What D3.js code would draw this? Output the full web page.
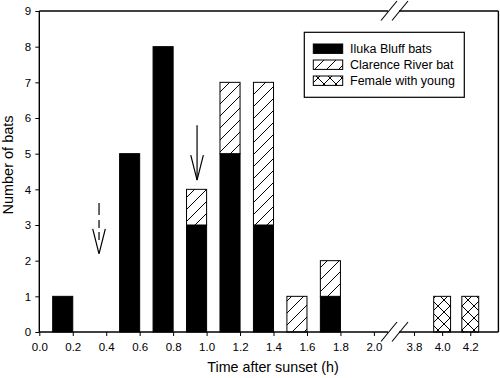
<!DOCTYPE html>
<html>
<head>
<meta charset="utf-8">
<script src="https://cdn.jsdelivr.net/npm/d3@7"></script>
<style>
  body { margin: 0; background: #fff; }
  svg { display: block; }
  text { font-family: "Liberation Sans", Arial, Helvetica, sans-serif; fill: #000; }
</style>
</head>
<body>
<svg id="chart" width="500" height="378"></svg>
<script>
// ---- data ----
const times    = [0.2, 0.6, 0.8, 1.0, 1.2, 1.4, 1.6, 1.8, 4.0, 4.2];
const iluka    = [1,   5,   8,   3,   5,   3,   0,   1,   0,   0];
const clarence = [0,   0,   0,   1,   2,   4,   1,   1,   0,   0];
const female   = [0,   0,   0,   0,   0,   0,   0,   0,   1,   1];
const seriesNames = ["Iluka Bluff bats", "Clarence River bat", "Female with young"];
const xTicksLeft  = [0.0, 0.2, 0.4, 0.6, 0.8, 1.0, 1.2, 1.4, 1.6, 1.8, 2.0];
const xTicksRight = [3.8, 4.0, 4.2];
const yTicks = [0, 1, 2, 3, 4, 5, 6, 7, 8, 9];
const arrows = [ {t: 0.357, y0: 3.62, y1: 2.19, dashed: true}, {t: 0.943, y0: 5.8, y1: 4.26, dashed: false} ];

(function () {
const svg = d3.select("#chart");
const pl = 39.3, pr = 498.4, pt = 11, pb = 332;

const x1 = d3.scaleLinear().domain([0, 2.0]).range([pl, 373.9]);
const x2 = d3.scaleLinear().domain([3.8, 4.4]).range([414, pr]);
const y  = d3.scaleLinear().domain([0, 9]).range([pb, pt]);

// patterns
const defs = svg.append("defs");
const p1 = defs.append("pattern").attr("id", "hatch").attr("patternUnits", "userSpaceOnUse")
  .attr("width", 12).attr("height", 12);
p1.append("rect").attr("width", 12).attr("height", 12).attr("fill", "#fff");
p1.append("path").attr("d", "M0,12 L12,0 M-3,3 L3,-3 M9,15 L15,9")
  .attr("stroke", "#000").attr("stroke-width", 1);
const p2 = defs.append("pattern").attr("id", "cross").attr("patternUnits", "userSpaceOnUse")
  .attr("width", 12).attr("height", 12);
p2.append("rect").attr("width", 12).attr("height", 12).attr("fill", "#fff");
p2.append("path").attr("d", "M0,12 L12,0 M-3,3 L3,-3 M9,15 L15,9 M0,0 L12,12 M-3,9 L3,15 M9,-3 L15,3")
  .attr("stroke", "#000").attr("stroke-width", 1);
const fills = ["#000", "url(#hatch)", "url(#cross)"];

// stack data
const rows = times.map((t, i) => ({t, a: iluka[i], b: clarence[i], c: female[i]}));
const stack = d3.stack().keys(["a", "b", "c"])(rows);

function barX(t) {
  if (t <= 2.0) return [x1(t - 0.12), x1(t)];
  return [x2(t - 0.06), x2(t + 0.06)];
}

stack.forEach((layer, k) => {
  svg.append("g").selectAll("rect")
    .data(layer.filter(d => d[1] > d[0]))
    .join("rect")
    .attr("x", d => barX(d.data.t)[0])
    .attr("width", d => barX(d.data.t)[1] - barX(d.data.t)[0])
    .attr("y", d => y(d[1]))
    .attr("height", d => y(d[0]) - y(d[1]))
    .attr("fill", fills[k])
    .attr("stroke", "#000")
    .attr("stroke-width", 1);
});

// axes
const fmt = d3.format(".1f");
const gxl = svg.append("g").attr("transform", `translate(0,${pb})`)
  .call(d3.axisBottom(x1).tickValues(xTicksLeft).tickFormat(fmt).tickSize(4).tickSizeOuter(0));
const gxr = svg.append("g").attr("transform", `translate(0,${pb})`)
  .call(d3.axisBottom(x2).tickValues(xTicksRight).tickFormat(fmt).tickSize(4).tickSizeOuter(0));
const gy = svg.append("g").attr("transform", `translate(${pl},0)`)
  .call(d3.axisLeft(y).tickValues(yTicks).tickSize(4).tickSizeOuter(0));
[gxl, gxr, gy].forEach(g => {
  g.select(".domain").remove();
  g.selectAll("text").style("font-size", "11.5px").attr("font-family", null);
  g.selectAll("line").attr("stroke", "#000");
});
gxl.selectAll("text").attr("dy", "1.05em");
gxr.selectAll("text").attr("dy", "1.05em");
gy.selectAll("text").attr("dx", "-0.1em");

// frame with breaks
const frame = svg.append("g").attr("stroke", "#000").attr("stroke-width", 1.4).attr("fill", "none");
const b1 = 388, b2 = 399;
frame.append("line").attr("x1", pl).attr("x2", pl).attr("y1", pt).attr("y2", pb);
frame.append("line").attr("x1", pr).attr("x2", pr).attr("y1", pt).attr("y2", pb);
[pt, pb].forEach(yy => {
  frame.append("line").attr("x1", pl).attr("x2", b1).attr("y1", yy).attr("y2", yy);
  frame.append("line").attr("x1", b2).attr("x2", pr).attr("y1", yy).attr("y2", yy);
  [b1, b2].forEach(cx => {
    frame.append("line").attr("x1", cx - 7).attr("y1", yy + 9.5).attr("x2", cx + 9).attr("y2", yy - 10)
      .attr("stroke-width", 1.1);
  });
});

// arrows
arrows.forEach(a => {
  const cx = x1(a.t), ya = y(a.y0), yb = y(a.y1);
  const g = svg.append("g").attr("stroke", "#000").attr("stroke-width", 1.2).attr("fill", "none");
  g.append("line").attr("x1", cx).attr("x2", cx).attr("y1", ya).attr("y2", yb - (a.dashed ? 14 : 0))
    .attr("stroke-dasharray", a.dashed ? "12,5,8,4,8" : null);
  g.append("path").attr("d", `M${cx - 6.3},${yb - 25} L${cx},${yb} L${cx + 6.3},${yb - 25}`);
});

// legend
const lg = svg.append("g");
lg.append("rect").attr("x", 304.3).attr("y", 32.3).attr("width", 160).attr("height", 65)
  .attr("fill", "#fff").attr("stroke", "#000").attr("stroke-width", 1.2);
seriesNames.forEach((n, i) => {
  const cy = 48.7 + i * 16;
  lg.append("rect").attr("x", 313.3).attr("y", cy - 4.7).attr("width", 29.4).attr("height", 9.4)
    .attr("fill", fills[i]).attr("stroke", "#000").attr("stroke-width", 1);
  lg.append("text").attr("x", 350).attr("y", cy + 4.5).style("font-size", "12.5px").text(n);
});

// axis titles
svg.append("text").attr("x", 273).attr("y", 372).attr("text-anchor", "middle")
  .style("font-size", "14.3px").text("Time after sunset (h)");
svg.append("text").attr("transform", `translate(13,165) rotate(-90)`)
  .attr("text-anchor", "middle").style("font-size", "14.5px").text("Number of bats");
})();
</script>
</body>
</html>
